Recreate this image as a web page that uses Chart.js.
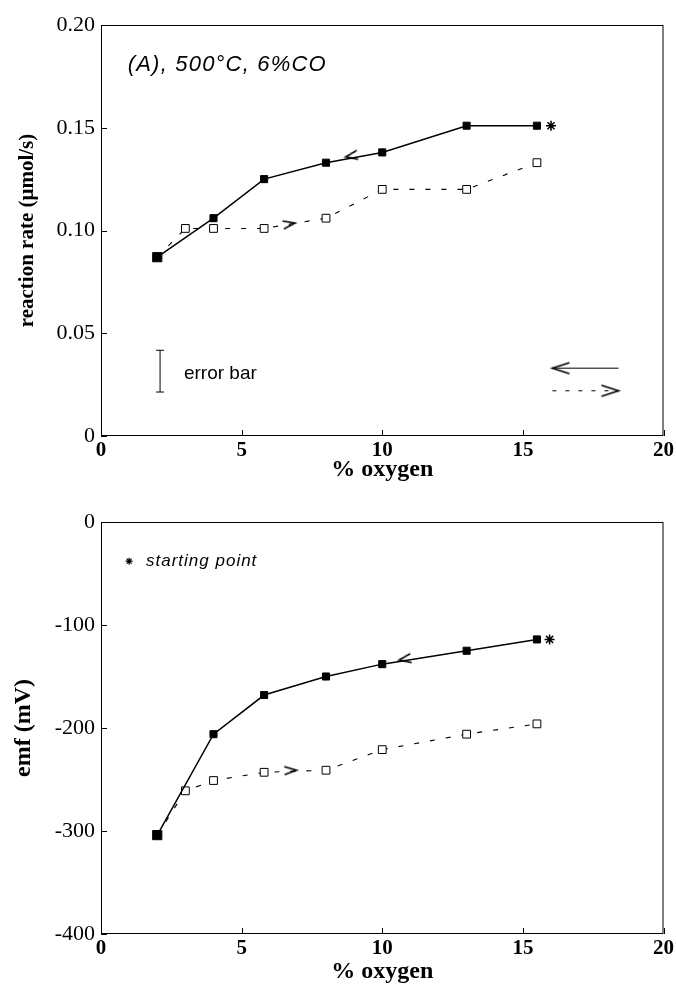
<!DOCTYPE html>
<html>
<head>
<meta charset="utf-8">
<script src="https://cdn.jsdelivr.net/npm/chart.js@4.4.0/dist/chart.umd.min.js"></script>
<style>
  html, body { margin: 0; padding: 0; background: #fff; }
  #wrap { position: relative; width: 676px; height: 986px; }
  canvas { position: absolute; left: 0; }
  #rateChart { top: 0; }
  #emfChart { top: 493px; }
</style>
</head>
<body>
<div id="wrap">
  <canvas id="rateChart" width="676" height="493"></canvas>
  <canvas id="emfChart" width="676" height="493"></canvas>
</div>
<script>
// % oxygen steps (down run starts at 15.5 %, up run starts at 2 %)
const oxygenDown = [2, 4, 5.8, 8, 10, 13, 15.5];
const oxygenUp = [2, 3, 4, 5.8, 8, 10, 13, 15.5];

// (A) reaction rate, umol/s
const rateDown = [0.087, 0.106, 0.125, 0.133, 0.138, 0.151, 0.151];
const rateUp = [0.087, 0.101, 0.101, 0.101, 0.106, 0.120, 0.120, 0.133];

// emf, mV
const emfDown = [-304, -206, -168, -150, -138, -125, -114];
const emfUp = [-304, -261, -251, -243, -241, -221, -206, -196];

const xTicks = [0, 5, 10, 15, 20];
const rateTicks = [0, 0.05, 0.10, 0.15, 0.20];
const emfTicks = [-400, -300, -200, -100, 0];

const rateErrorBar = [0.0214, 0.0417];

function toPoints(xs, ys) {
    return xs.map((x, i) => ({ x: x, y: ys[i] }));
}

// small "<" / ">" heads, tip sits in the middle of the image
function chevron(dir, w, h) {
    const c = document.createElement("canvas");
    c.width = w * 2 + 4;
    c.height = h + 4;
    const g = c.getContext("2d");
    g.strokeStyle = "#000";
    g.lineWidth = 1.6;
    const cx = w + 2, cy = (h + 4) / 2;
    const s = dir === "left" ? 1 : -1;
    g.beginPath();
    g.moveTo(cx + s * w, cy - h / 2);
    g.lineTo(cx, cy);
    g.lineTo(cx + s * w, cy + h / 2);
    g.stroke();
    return c;
}

const headLeft = chevron("left", 12, 9);
const headRight = chevron("right", 12, 8);
const keyLeft = chevron("left", 17, 11);
const keyRight = chevron("right", 17, 11);

// frame, inward ticks and free text
const framePlugin = {
    id: "frame",
    afterDraw(chart, args, opts) {
        const { ctx, chartArea: a, scales } = chart;
        const x = scales.x, y = scales.y;
        ctx.save();
        ctx.strokeStyle = "#000";
        ctx.lineWidth = 1;
        ctx.strokeRect(a.left + 0.5, a.top + 0.5, a.right - a.left - 1, a.bottom - a.top - 1);
        ctx.beginPath();
        x.ticks.forEach((t) => {
            const px = Math.round(x.getPixelForValue(t.value)) + 0.5;
            ctx.moveTo(px, a.bottom);
            ctx.lineTo(px, a.bottom - 6);
        });
        y.ticks.forEach((t) => {
            const py = Math.round(y.getPixelForValue(t.value)) + 0.5;
            ctx.moveTo(a.left, py);
            ctx.lineTo(a.left + 6, py);
        });
        ctx.stroke();

        ctx.fillStyle = "#000";
        ctx.textBaseline = "middle";
        ctx.textAlign = "left";
        (opts.notes || []).forEach((n) => {
            ctx.font = n.font;
            ctx.letterSpacing = n.spacing || "0px";
            ctx.fillText(n.text, x.getPixelForValue(n.x), y.getPixelForValue(n.y));
        });
        ctx.restore();
    },
};

function makeOptions(cfg) {
    return {
        responsive: false,
        animation: false,
        events: [],
        layout: { padding: cfg.padding },
        plugins: {
            legend: { display: false },
            tooltip: { enabled: false },
            frame: { notes: cfg.notes },
        },
        scales: {
            x: {
                type: "linear",
                min: xTicks[0],
                max: xTicks[xTicks.length - 1],
                afterBuildTicks: (s) => { s.ticks = xTicks.map((v) => ({ value: v })); },
                afterFit: (s) => { s.height = cfg.xHeight; },
                grid: { display: false, drawTicks: false },
                border: { display: false },
                ticks: {
                    padding: 2,
                    color: "#000",
                    font: { family: "'Liberation Serif'", size: 21, weight: "bold" },
                },
                title: {
                    display: true,
                    text: "% oxygen",
                    color: "#000",
                    padding: { top: 0, bottom: cfg.xTitlePad },
                    font: { family: "'Liberation Serif'", size: 24, weight: "bold" },
                },
            },
            y: {
                type: "linear",
                min: cfg.yTicks[0],
                max: cfg.yTicks[cfg.yTicks.length - 1],
                afterBuildTicks: (s) => { s.ticks = cfg.yTicks.map((v) => ({ value: v })); },
                afterFit: (s) => { s.width = 101; },
                grid: { display: false, drawTicks: false },
                border: { display: false },
                ticks: {
                    padding: 6,
                    color: "#000",
                    font: { family: "'Liberation Serif'", size: 22 },
                    callback: cfg.yFormat,
                },
                title: {
                    display: true,
                    text: cfg.yTitle,
                    color: "#000",
                    padding: { top: cfg.yTitlePad, bottom: 0 },
                    font: { family: "'Liberation Serif'", size: cfg.yTitleSize, weight: "bold" },
                },
            },
        },
    };
}

function makeDatasets(down, up, extra) {
    return [
        {
            data: toPoints(oxygenDown, down),
            showLine: true,
            borderColor: "#000",
            borderWidth: 1.5,
            pointStyle: "rect",
            pointRadius: oxygenDown.map((x, i) => (i === 0 ? 6.5 : 5)),
            pointBackgroundColor: "#000",
            pointBorderColor: "#000",
            pointBorderWidth: 1,
        },
        {
            data: toPoints(oxygenUp, up),
            showLine: true,
            borderColor: "#000",
            borderWidth: 1.1,
            borderDash: [5, 11],
            pointStyle: "rect",
            pointRadius: oxygenUp.map((x, i) => (i === 0 ? 0 : 5.5)),
            pointBackgroundColor: "#fff",
            pointBorderColor: "#000",
            pointBorderWidth: 1,
        },
        {
            // starting point
            data: [{ x: extra.star[0], y: extra.star[1] }],
            pointStyle: "star",
            pointRadius: 5,
            pointBorderColor: "#000",
            pointBorderWidth: 1.5,
        },
        {
            data: [{ x: extra.downHead[0], y: extra.downHead[1] }],
            pointStyle: headLeft,
            pointRadius: 5,
            pointRotation: extra.downHead[2],
        },
        {
            data: [{ x: extra.upHead[0], y: extra.upHead[1] }],
            pointStyle: headRight,
            pointRadius: 5,
            pointRotation: extra.upHead[2],
        },
    ].concat(extra.more || []);
}

// ---- (A) reaction rate ----
new Chart(document.getElementById("rateChart"), {
    type: "scatter",
    data: {
        datasets: makeDatasets(rateDown, rateUp, {
            star: [16.0, 0.151],
            downHead: [8.7, 0.1358, -10],
            upHead: [6.9, 0.1036, -9],
            more: [
                {
                    // error bar
                    data: [{ x: 2.1, y: rateErrorBar[0] }, { x: 2.1, y: rateErrorBar[1] }],
                    showLine: true,
                    borderColor: "#000",
                    borderWidth: 1,
                    pointStyle: "line",
                    pointRadius: 4,
                    pointBorderColor: "#000",
                    pointBorderWidth: 1,
                },
                {
                    // key: down run
                    data: [{ x: 16.05, y: 0.033 }, { x: 18.4, y: 0.033 }],
                    showLine: true,
                    borderColor: "#000",
                    borderWidth: 1,
                    pointStyle: keyLeft,
                    pointRadius: [5, 0],
                },
                {
                    // key: up run
                    data: [{ x: 16.05, y: 0.022 }, { x: 18.4, y: 0.022 }],
                    showLine: true,
                    borderColor: "#000",
                    borderWidth: 1,
                    borderDash: [4, 9],
                    pointStyle: keyRight,
                    pointRadius: [0, 5],
                },
            ],
        }),
    },
    options: makeOptions({
        padding: { top: 25, right: 10, left: 0, bottom: 0 },
        xHeight: 57,
        xTitlePad: 9,
        yTicks: rateTicks,
        yFormat: (v) => (v === 0 ? "0" : v.toFixed(2)),
        yTitle: "reaction rate (\u03bcmol/s)",
        yTitleSize: 21,
        yTitlePad: 15,
        notes: [
            { text: "(A), 500\u00b0C, 6%CO", x: 0.95, y: 0.1805, font: "italic 22px 'Liberation Sans'", spacing: "1.2px" },
            { text: "error bar", x: 2.95, y: 0.0305, font: "19px 'Liberation Sans'" },
        ],
    }),
    plugins: [framePlugin],
});

// ---- emf ----
new Chart(document.getElementById("emfChart"), {
    type: "scatter",
    data: {
        datasets: makeDatasets(emfDown, emfUp, {
            star: [15.95, -114],
            downHead: [10.6, -134, -9],
            upHead: [6.95, -241, -2],
            more: [
                {
                    data: [{ x: 1.0, y: -38 }],
                    pointStyle: "star",
                    pointRadius: 3.5,
                    pointBorderColor: "#000",
                    pointBorderWidth: 1.2,
                },
            ],
        }),
    },
    options: makeOptions({
        padding: { top: 29, right: 11, left: 0, bottom: 0 },
        xHeight: 52,
        xTitlePad: 0,
        yTicks: emfTicks,
        yFormat: (v) => String(v),
        yTitle: "emf (mV)",
        yTitleSize: 24,
        yTitlePad: 9,
        notes: [
            { text: "starting point", x: 1.6, y: -38, font: "italic 17px 'Liberation Sans'", spacing: "1px" },
        ],
    }),
    plugins: [framePlugin],
});
</script>
</body>
</html>
